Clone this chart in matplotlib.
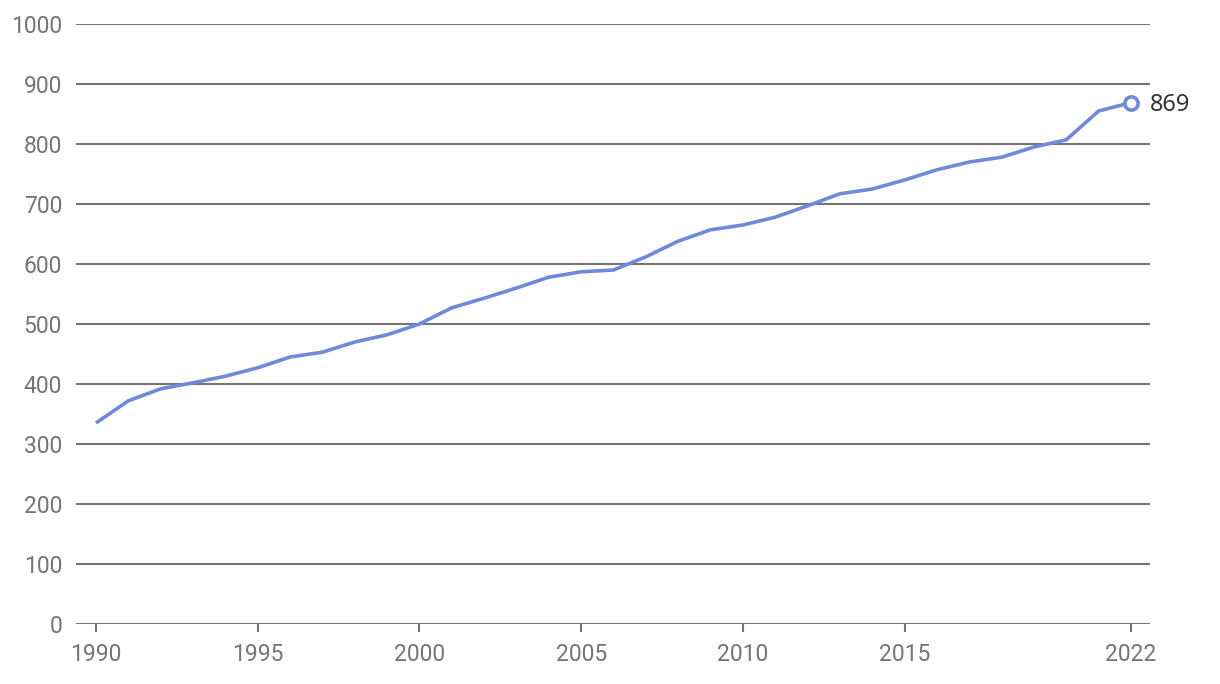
import matplotlib
matplotlib.use("Agg")
import matplotlib.pyplot as plt

# data
years = list(range(1990, 2023))
values = [335, 372, 392, 402, 413, 427, 445, 453, 470, 482,
          500, 527, 543, 560, 578, 587, 590, 612, 638, 657,
          665, 678, 697, 717, 725, 740, 757, 770, 778, 795,
          807, 855, 869]
xticks = [1990, 1995, 2000, 2005, 2010, 2015, 2022]
yticks = list(range(0, 1001, 100))

plt.rcParams['font.family'] = ['Roboto', 'DejaVu Sans']

fig = plt.figure(figsize=(12.2, 6.84), dpi=100)
ax = fig.add_axes([76/1220, 60/684, (1150-76)/1220, 600/684])

for y in yticks:
    ax.axhline(y, color='#747474', lw=1.5, zorder=1)

line_color = '#6f8ad9'
ax.plot(years, values, color=line_color, lw=2.6, zorder=3, solid_capstyle='butt')
ax.plot(years[-1], values[-1], 'o', ms=9.5, mfc='white', mec=line_color, mew=2.6, zorder=4)
ax.annotate(str(values[-1]), (years[-1], values[-1]), xytext=(13.5, -2),
            textcoords='offset points', va='center', ha='left',
            fontsize=17, color='#333333', family=['Noto Sans', 'DejaVu Sans'])

ax.set_xlim(1990 - 20/32.34, 2022 + 19/32.34)
ax.set_ylim(0, 1000)
ax.set_xticks(xticks)
ax.set_yticks(yticks)
ax.tick_params(axis='x', length=6, width=1.5, color='#747474', labelcolor='#757575',
               labelsize=16.5, pad=8)
ax.tick_params(axis='y', length=0, labelcolor='#757575', labelsize=16.5, pad=10)
for s in ax.spines.values():
    s.set_visible(False)

fig.savefig('out.png', dpi=100)
